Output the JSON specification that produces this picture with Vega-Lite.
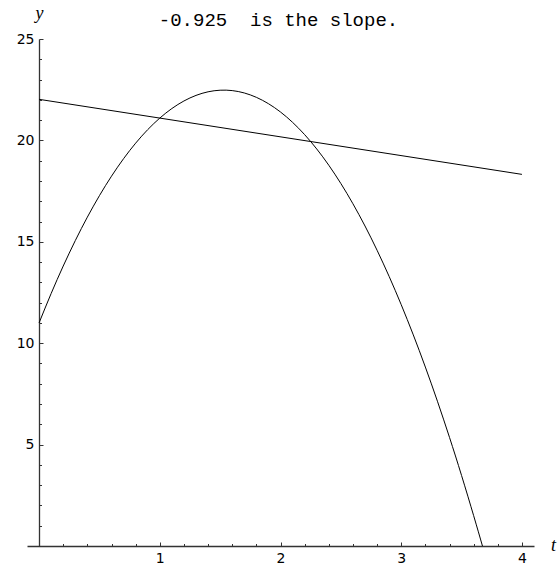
{
  "$schema": "https://vega.github.io/schema/vega-lite/v6.json",
  "width": 507,
  "height": 507,
  "autosize": {"type": "none"},
  "padding": {"left": 27, "top": 39, "right": 23, "bottom": 23},
  "background": "white",
  "title": {
    "text": "-0.925\u00a0 is the slope.",
    "font": "Liberation Mono",
    "fontSize": 19,
    "fontWeight": "normal",
    "color": "black",
    "anchor": "middle",
    "frame": "group",
    "baseline": "alphabetic",
    "offset": -41,
    "dx": -2
  },
  "config": {
    "view": {"stroke": null},
    "axis": {"grid": false, "domainColor": "#333", "tickColor": "#333", "labelColor": "black", "labelFont": "DejaVu Sans", "labelFontSize": 14}
  },
  "datasets": {
    "curve": [
      {"t": 0, "y": 11}, {"t": 0.1, "y": 12.451}, {"t": 0.2, "y": 13.804}, {"t": 0.3, "y": 15.059},
      {"t": 0.4, "y": 16.216}, {"t": 0.5, "y": 17.275}, {"t": 0.6, "y": 18.236}, {"t": 0.7, "y": 19.099},
      {"t": 0.8, "y": 19.864}, {"t": 0.9, "y": 20.531}, {"t": 1.0, "y": 21.1}, {"t": 1.1, "y": 21.571},
      {"t": 1.2, "y": 21.944}, {"t": 1.3, "y": 22.219}, {"t": 1.4, "y": 22.396}, {"t": 1.5, "y": 22.475},
      {"t": 1.6, "y": 22.456}, {"t": 1.7, "y": 22.339}, {"t": 1.8, "y": 22.124}, {"t": 1.9, "y": 21.811},
      {"t": 2.0, "y": 21.4}, {"t": 2.1, "y": 20.891}, {"t": 2.2, "y": 20.284}, {"t": 2.3, "y": 19.579},
      {"t": 2.4, "y": 18.776}, {"t": 2.5, "y": 17.875}, {"t": 2.6, "y": 16.876}, {"t": 2.7, "y": 15.779},
      {"t": 2.8, "y": 14.584}, {"t": 2.9, "y": 13.291}, {"t": 3.0, "y": 11.9}, {"t": 3.1, "y": 10.411},
      {"t": 3.2, "y": 8.824}, {"t": 3.3, "y": 7.139}, {"t": 3.4, "y": 5.356}, {"t": 3.5, "y": 3.475},
      {"t": 3.6, "y": 1.496}, {"t": 3.673, "y": 0}
    ],
    "secant": [
      {"t": 0, "y": 22.025}, {"t": 4, "y": 18.325}
    ]
  },
  "layer": [
    {
      "data": {"name": "curve"},
      "mark": {"type": "line", "color": "black", "strokeWidth": 1, "interpolate": "natural"},
      "encoding": {
        "x": {
          "field": "t", "type": "quantitative",
          "scale": {"domain": [-0.1, 4.1], "nice": false, "zero": false},
          "axis": {
            "orient": "bottom", "values": [1, 2, 3, 4], "tickSize": -4, "labelPadding": 9,
            "domain": true, "domainWidth": 1.3, "title": "t", "titleFont": "Liberation Serif", "titleFontStyle": "italic",
            "titleFontWeight": "normal", "titleFontSize": 18, "titleX": 526, "titleY": 4, "titleAlign": "center", "titleBaseline": "alphabetic", "titleColor": "black"
          }
        },
        "y": {
          "field": "y", "type": "quantitative",
          "scale": {"domain": [0, 25], "nice": false, "zero": false},
          "axis": {
            "orient": "left", "offset": -12, "values": [5, 10, 15, 20, 25], "tickSize": -4, "labelPadding": 9,
            "domain": true, "domainWidth": 1.3, "title": "y", "titleFont": "Liberation Serif", "titleFontStyle": "italic",
            "titleFontWeight": "normal", "titleFontSize": 18, "titleAngle": 0, "titleX": 0, "titleY": -21, "titleAlign": "center", "titleBaseline": "alphabetic", "titleColor": "black"
          }
        }
      }
    },
    {
      "data": {"name": "secant"},
      "mark": {"type": "line", "color": "black", "strokeWidth": 1},
      "encoding": {
        "x": {
          "field": "t", "type": "quantitative",
          "axis": {
            "orient": "bottom", "values": [0.2, 0.4, 0.6, 0.8, 1.2, 1.4, 1.6, 1.8, 2.2, 2.4, 2.6, 2.8, 3.2, 3.4, 3.6, 3.8],
            "tickSize": -2.5, "labels": false, "domain": false, "title": null
          }
        },
        "y": {
          "field": "y", "type": "quantitative",
          "axis": {
            "orient": "left", "offset": -12, "values": [1, 2, 3, 4, 6, 7, 8, 9, 11, 12, 13, 14, 16, 17, 18, 19, 21, 22, 23, 24],
            "tickSize": -2.5, "labels": false, "domain": false, "title": null
          }
        }
      }
    }
  ],
  "resolve": {"axis": {"x": "independent", "y": "independent"}}
}
